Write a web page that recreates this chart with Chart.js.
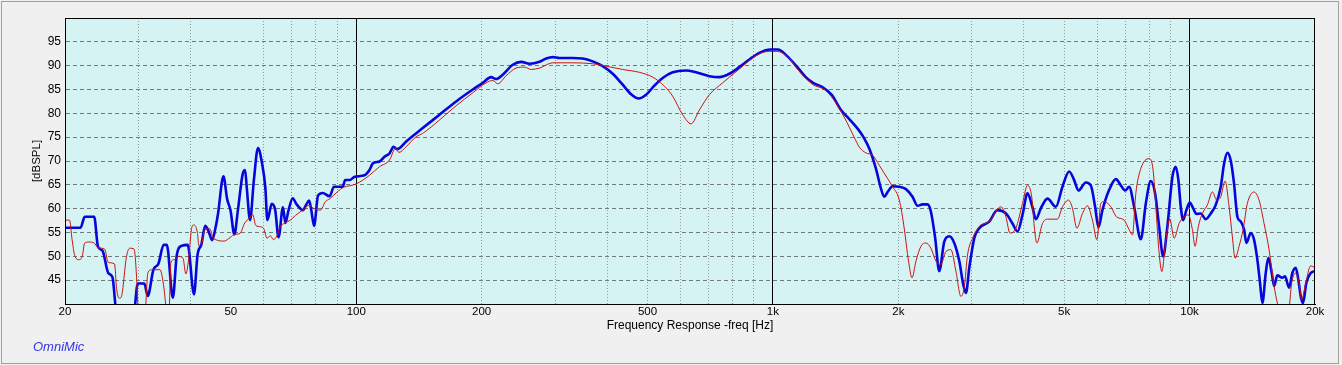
<!DOCTYPE html>
<html>
<head>
<meta charset="utf-8">
<script src="https://cdn.jsdelivr.net/npm/chart.js@4.4.1/dist/chart.umd.min.js"></script>
<style>
  html, body { margin: 0; padding: 0; background: #f0f0f0; }
  canvas { display: block; }
</style>
</head>
<body>
<canvas id="fr" width="1342" height="365"></canvas>
<script>
// red trace (thin)
const redFreq = [20, 20.5, 20.8, 21.1, 21.6, 22.0, 22.3, 22.8, 23.5, 24.0, 24.9, 25.4, 26.3, 26.6, 27.0, 27.3, 28.1, 28.6, 29.3, 29.7, 30.0, 30.6, 31.2, 31.6, 32.3, 33.8, 34.5, 35.1, 35.5, 35.9, 36.6, 37.5, 38.4, 39.0, 39.6, 40.2, 40.7, 41.6, 41.9, 42.5, 43.3, 44.5, 45.3, 46.3, 48.2, 49.9, 51.0, 52.6, 54.0, 55.4, 56.4, 57.4, 58.9, 60.0, 61.1, 62.2, 63.3, 64.5, 65.7, 67.5, 69.5, 71.5, 74.4, 77.1, 79.2, 82.1, 84.2, 86.5, 90.0, 93.3, 96.4, 100, 107.6, 113.7, 120.2, 124.3, 126.6, 131.8, 139.3, 144.4, 158.4, 173.7, 190.4, 205, 212.7, 218.7, 229, 242, 253.3, 262.9, 275.3, 296.2, 330.8, 369.4, 397.8, 436.1, 478.2, 514.6, 549, 574.7, 607.4, 636.3, 666.2, 703.9, 757.6, 830.8, 911.1, 980, 1018, 1095, 1139, 1249, 1328, 1398, 1487, 1565, 1612, 1672, 1735, 1800, 1885, 1938, 2011, 2066, 2116, 2157, 2205, 2266, 2329, 2394, 2462, 2530, 2601, 2674, 2749, 2826, 2878, 2932, 3014, 3128, 3305, 3526, 3624, 3706, 3830, 3972, 4083, 4184, 4238, 4300, 4436, 4560, 4818, 4954, 5121, 5235, 5364, 5533, 5687, 5846, 5992, 6125, 6237, 6471, 6675, 6966, 7160, 7292, 7430, 7638, 7996, 8175, 8299, 8451, 8580, 8770, 8966, 9182, 9439, 9703, 9936, 10157, 10309, 10500, 10735, 11036, 11345, 11623, 11882, 12168, 12440, 12668, 12859, 13146, 13440, 13763, 14280, 14682, 15093, 15515, 15950, 16243, 16670, 17258, 17584, 17981, 18309, 18584, 19000, 19530, 20000];
const redDb = [57.6, 57.6, 53.5, 50.2, 49.3, 50, 52.8, 53, 52.8, 51.8, 51.5, 48.7, 48.4, 43.2, 41.2, 41.5, 50, 51.7, 51.5, 45.8, 38, 36, 39, 46.5, 47.2, 47.2, 43.8, 38, 37, 48.7, 49.3, 50, 49.6, 46.3, 49.4, 55.5, 56.6, 54.8, 52.2, 52.5, 55.6, 55.8, 54, 53.4, 53.2, 54, 54.6, 54.8, 57, 58, 58.8, 56.5, 56.2, 55.8, 53.8, 54.3, 53.5, 54.3, 56.2, 57, 57.6, 58.6, 59.7, 60.7, 60, 59.7, 61.4, 62.1, 63.5, 64.5, 64.8, 65.2, 67.0, 68.8, 70.2, 72.7, 71.8, 73.0, 75.1, 75.8, 78.6, 81.6, 84.3, 86.4, 86.9, 86.2, 87.9, 89.5, 89.7, 89.2, 89.5, 90.6, 90.6, 90.4, 89.9, 89.2, 88.6, 87.6, 85.7, 83.6, 79.7, 77.8, 80.7, 83.9, 86.4, 89.3, 92.1, 93.0, 93.0, 91.6, 89.5, 86.0, 85.0, 82.9, 79.0, 75.1, 72.9, 71.7, 71.2, 69.1, 66.3, 64.6, 61.8, 55.9, 49.0, 45.5, 49.0, 52.1, 52.8, 51.7, 49.0, 48.3, 51.0, 51.4, 46.9, 41.6, 43.4, 50.3, 53.8, 56.3, 57.3, 60.4, 58.3, 54.9, 55.9, 61.1, 64.9, 62.2, 56.3, 52.8, 56.9, 57.8, 57.8, 60.4, 61.8, 60.1, 55.9, 59.0, 60.6, 57.6, 53.5, 61.1, 61.5, 60.4, 58.3, 57.6, 55.6, 54.5, 63.2, 68.4, 70.5, 68.1, 60.4, 50.7, 46.8, 53.5, 57.8, 53.8, 56.9, 58.3, 58.7, 55.6, 52.1, 56.3, 59.0, 60.8, 63.5, 61.8, 62.5, 65.8, 60.4, 54.1, 49.6, 52.1, 55.6, 61.1, 63.5, 61.8, 56.9, 51.4, 43.8, 40.2, 37, 38, 44.4, 46.5, 44.4, 41.0, 44.4, 48.0, 47.6];

// blue trace (thick)
const blueFreq = [20, 21.8, 22.3, 23.5, 24.0, 24.6, 25.4, 26.0, 26.6, 28.8, 29.3, 29.9, 31.0, 31.6, 32.6, 33.5, 34.5, 35.1, 36.3, 37.1, 38.1, 39.4, 40.8, 41.6, 42.5, 43.4, 44.2, 45.1, 46.0, 46.6, 48.0, 49.0, 49.9, 51.0, 52.0, 53.4, 54.1, 54.6, 55.6, 56.8, 58.1, 59.4, 60.5, 61.2, 62.7, 63.9, 65.1, 66.7, 67.6, 68.8, 70.4, 71.8, 74.5, 75.8, 77.1, 78.0, 79.2, 81.0, 83.1, 86.3, 88.4, 92.8, 94.1, 96.4, 99.2, 104.7, 107.6, 109.6, 113.7, 116.9, 120.2, 122.9, 125.2, 127.0, 131.8, 144.4, 158.4, 173.7, 190.4, 201.2, 210.7, 216.7, 224.7, 237.5, 248.8, 260.4, 275.3, 285.6, 296.2, 307.4, 330.8, 349.5, 369.4, 390.4, 412.6, 436.1, 456.7, 476.3, 496.2, 519.5, 543.8, 574.7, 618.9, 654, 703.9, 743.9, 786.3, 830.8, 878, 927.8, 986, 1028, 1082, 1139, 1199, 1249, 1315, 1384, 1457, 1518, 1597, 1647, 1703, 1767, 1817, 1850, 1885, 1938, 2011, 2086, 2163, 2224, 2286, 2350, 2394, 2452, 2507, 2578, 2650, 2724, 2801, 2863, 2906, 2960, 3043, 3128, 3305, 3460, 3624, 3758, 3864, 3972, 4083, 4198, 4277, 4397, 4560, 4776, 4954, 5140, 5284, 5411, 5636, 5794, 5933, 6043, 6178, 6410, 6653, 6839, 7003, 7160, 7361, 7638, 7852, 8072, 8266, 8451, 8640, 8847, 9095, 9266, 9401, 9525, 9647, 9825, 10011, 10195, 10383, 10638, 10936, 11243, 11558, 11882, 12100, 12323, 12555, 12788, 13023, 13269, 13516, 13688, 14023, 14280, 14543, 14762, 14951, 15235, 15455, 15749, 15950, 16243, 16698, 16948, 17327, 17648, 17981, 18240, 18484, 18720, 19064, 19530, 20000];
const blueDb = [56, 56, 58.3, 58.3, 52, 51.2, 46.5, 45.6, 38, 36, 38, 44.3, 44.3, 41.7, 47.2, 48.4, 52.4, 52.4, 41.3, 50.3, 52.2, 52.4, 42.0, 50.3, 52.5, 56.4, 55.3, 53.4, 56.2, 59, 66.8, 62, 59.7, 54.6, 59.7, 67.3, 68.1, 64.5, 57.6, 66, 72.7, 69.6, 64.5, 57.6, 61, 59.7, 54, 60.3, 57, 59.7, 62.2, 61, 59.7, 60.8, 61.7, 59.7, 56.4, 62.8, 63.3, 62.6, 64.6, 64.6, 66, 66, 66.7, 67.0, 68.1, 69.5, 69.9, 70.9, 71.6, 73.0, 72.5, 72.7, 74.1, 76.9, 79.7, 82.5, 85.0, 86.4, 87.6, 87.2, 88.1, 90.2, 90.8, 90.4, 90.8, 91.5, 91.8, 91.6, 91.6, 91.5, 90.9, 89.9, 88.3, 86.0, 84.0, 83.1, 83.9, 85.8, 87.4, 88.6, 89.0, 88.6, 87.8, 87.6, 88.3, 89.7, 91.3, 92.7, 93.4, 93.4, 92.0, 89.9, 87.6, 86.4, 85.5, 83.9, 80.7, 79.0, 76.8, 75.1, 72.6, 68.4, 64.2, 62.5, 63.5, 64.7, 64.6, 64.1, 62.5, 60.6, 60.9, 60.9, 59.4, 53.8, 46.9, 53.1, 54.2, 52.8, 49.0, 44.1, 42.3, 47.6, 53.8, 55.9, 57.3, 59.7, 59.0, 56.9, 55.2, 58.7, 63.2, 60.3, 57.8, 60.1, 62.1, 60.4, 64.6, 67.8, 66.0, 63.8, 65.5, 64.9, 60.4, 56.1, 59.7, 63.9, 66.2, 64.9, 63.8, 64.6, 60.4, 53.6, 61.1, 65.8, 63.2, 56.3, 50.0, 56.3, 66.7, 68.8, 66.0, 60.4, 57.6, 59.7, 61.3, 60.1, 58.9, 59.0, 57.8, 59.0, 60.8, 64.6, 69.4, 71.7, 70.1, 65.2, 58.3, 57.3, 55.6, 52.8, 54.9, 53.5, 49.3, 44.4, 40.2, 46.5, 49.7, 46.5, 43.8, 46.0, 45.5, 45.8, 43.4, 46.5, 47.6, 45.1, 41.6, 40.2, 44.4, 46.5, 46.9];

// axes
const xTickValues = [20, 30, 40, 50, 60, 70, 80, 90, 100, 200, 300, 400, 500, 600, 700, 800, 900, 1000, 2000, 3000, 4000, 5000, 6000, 7000, 8000, 9000, 10000, 20000];
const xLabelValues = [20, 50, 100, 200, 500, 1000, 2000, 5000, 10000, 20000];
const xLabelTexts = ['20', '50', '100', '200', '500', '1k', '2k', '5k', '10k', '20k'];
const xDecades = [100, 1000, 10000];
const xNoLine = [20, 50, 20000];

Chart.defaults.font.family = '"Liberation Sans", Arial, sans-serif';
Chart.defaults.font.size = 11;
Chart.defaults.color = '#000';

const toPoints = (fs, ds) => fs.map((f, i) => ({x: f, y: ds[i]}));

const panel = {
    id: 'panel',
    beforeDraw(chart) {
        const {ctx, chartArea: a} = chart;
        ctx.save();
        ctx.fillStyle = '#f0f0f0';
        ctx.fillRect(0, 0, chart.width, chart.height);
        ctx.strokeStyle = '#a0a0a0';
        ctx.lineWidth = 1;
        ctx.strokeRect(1.5, 1.5, 1337, 362);
        ctx.fillStyle = '#d6f3f3';
        ctx.fillRect(a.left, a.top, a.right - a.left, a.bottom - a.top);
        ctx.restore();
    },
    afterDatasetsDraw(chart) {
        const {ctx, chartArea: a} = chart;
        ctx.save();
        ctx.strokeStyle = '#000';
        ctx.lineWidth = 1;
        ctx.strokeRect(a.left + 0.5, a.top + 0.5, a.right - a.left - 1, a.bottom - a.top);
        ctx.restore();
    },
    afterDraw(chart) {
        const ctx = chart.ctx;
        ctx.save();
        ctx.font = 'italic 13px "Liberation Sans", Arial, sans-serif';
        ctx.fillStyle = '#3434e0';
        ctx.textBaseline = 'middle';
        ctx.fillText('OmniMic', 33, 347);
        ctx.restore();
    }
};

new Chart(document.getElementById('fr'), {
    type: 'line',
    data: {
        datasets: [{
            label: 'red',
            data: toPoints(redFreq, redDb),
            borderColor: '#d01010',
            borderWidth: 1,
            pointRadius: 0,
            cubicInterpolationMode: 'monotone',
            clip: 0
        }, {
            label: 'blue',
            data: toPoints(blueFreq, blueDb),
            borderColor: '#0505dc',
            borderWidth: 2.6,
            pointRadius: 0,
            cubicInterpolationMode: 'monotone',
            clip: 0
        }]
    },
    options: {
        responsive: false,
        animation: false,
        events: [],
        layout: {padding: {top: 18, right: 27, left: 0, bottom: 0}},
        plugins: {legend: {display: false}, tooltip: {enabled: false}},
        scales: {
            x: {
                type: 'logarithmic',
                min: 20,
                max: 20000,
                afterBuildTicks: s => { s.ticks = xTickValues.map(v => ({value: v})); },
                afterFit: s => { s.height = 61; },
                ticks: {
                    autoSkip: false,
                    maxRotation: 0,
                    padding: 1,
                    font: {size: 11.5},
                    callback: v => {
                        const i = xLabelValues.indexOf(v);
                        return i < 0 ? '' : xLabelTexts[i];
                    }
                },
                grid: {
                    drawTicks: false,
                    lineWidth: 1,
                    color: c => {
                        const v = c.tick ? c.tick.value : null;
                        if (xDecades.includes(v)) return '#000';
                        if (xNoLine.includes(v)) return 'rgba(0,0,0,0)';
                        return '#8a9a9a';
                    }
                },
                border: {
                    color: '#000',
                    dash: c => (c.tick && !xDecades.includes(c.tick.value)) ? [1, 2] : []
                },
                title: {
                    display: true,
                    text: 'Frequency Response -freq [Hz]',
                    font: {size: 12},
                    padding: {top: 0, bottom: 32}
                }
            },
            y: {
                min: 40,
                max: 100,
                afterFit: s => { s.width = 65; },
                ticks: {
                    stepSize: 5,
                    padding: 4,
                    font: {size: 12},
                    callback: v => (v === 40 || v === 100) ? '' : v
                },
                grid: {
                    drawTicks: false,
                    color: c => (c.tick && (c.tick.value === 40 || c.tick.value === 100)) ? 'rgba(0,0,0,0)' : '#6f7b7b'
                },
                border: {color: '#000', dash: [4, 3]},
                title: {
                    display: true,
                    text: '[dBSPL]',
                    font: {size: 11.5},
                    padding: {top: 30, bottom: 0}
                }
            }
        }
    },
    plugins: [panel]
});
</script>
</body>
</html>
